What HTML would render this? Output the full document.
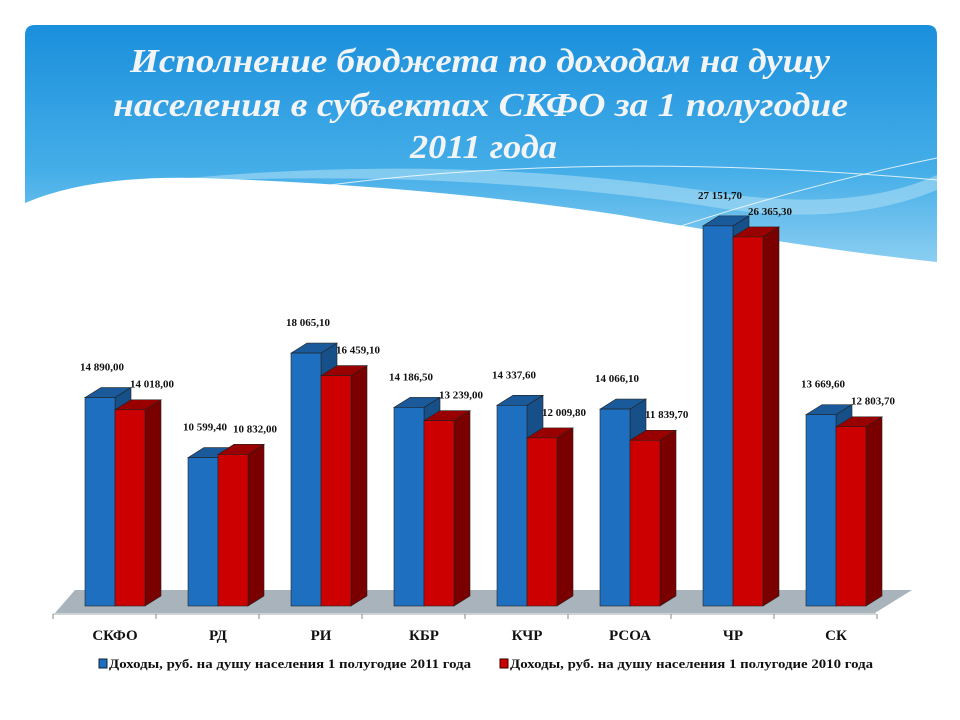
<!DOCTYPE html>
<html><head><meta charset="utf-8"><style>
html,body{margin:0;padding:0;background:#fff;width:960px;height:720px;overflow:hidden}
svg{display:block}
</style></head><body>
<svg id="chart" width="960" height="720" viewBox="0 0 960 720">
<defs>
<linearGradient id="sky" x1="0" y1="0" x2="0" y2="1">
<stop offset="0" stop-color="#1a8fdc"/><stop offset="0.6" stop-color="#45aee8"/><stop offset="1" stop-color="#8fd0f2"/>
</linearGradient>
</defs>
<g>
<path d="M25,35 Q25,25 35,25 L927,25 Q937,25 937,35 L937,268 L25,268 Z" fill="url(#sky)"/>
<path d="M120,185 Q420,150 700,190 Q850,215 937,175 L937,190 Q840,230 700,205 Q420,165 120,185Z" fill="#a8dcf5" opacity="0.6"/>
<path d="M25,203 Q90,175 200,178 Q420,185 620,215 Q820,250 937,262 L937,290 L25,290 Z" fill="#fff"/>
<path d="M330,185 Q600,150 937,180" stroke="#fff" stroke-width="1" fill="none" opacity="0.8"/>
<path d="M610,250 Q780,190 937,158" stroke="#fff" stroke-width="1" fill="none" opacity="0.8"/>
</g>
<g font-family="Liberation Serif, serif" font-style="italic" font-weight="bold" font-size="34" fill="#f2f4f6" text-anchor="start">
<text x="130" y="72" textLength="700" lengthAdjust="spacingAndGlyphs">Исполнение бюджета по доходам на душу</text>
<text x="113" y="116" textLength="735" lengthAdjust="spacingAndGlyphs">населения в субъектах СКФО за 1 полугодие</text>
<text x="410" y="158" textLength="147" lengthAdjust="spacingAndGlyphs">2011 года</text>
</g>
<path d="M55,613 L875,613 L912,590 L75,590 Z" fill="#a9b3bb"/>
<line x1="53" y1="614" x2="876" y2="614" stroke="#9aa" stroke-width="1"/>
<g id="bars"></g>
<g font-family="Liberation Serif, serif" font-weight="bold" font-size="12.5" fill="#111">
<g>
<rect x="99" y="659" width="8" height="9" fill="#1f6fc0" stroke="#123"/>
<text x="109" y="668" textLength="362" lengthAdjust="spacingAndGlyphs">Доходы, руб. на душу населения 1 полугодие 2011 года</text></g>
<g>
<rect x="500" y="659" width="8" height="9" fill="#cc0000" stroke="#300"/>
<text x="510" y="668" textLength="363" lengthAdjust="spacingAndGlyphs">Доходы, руб. на душу населения 1 полугодие 2010 года</text></g>
</g>
</svg>
<script>
const categories=["СКФО","РД","РИ","КБР","КЧР","РСОА","ЧР","СК"];
const values2011=[14890.00,10599.40,18065.10,14186.50,14337.60,14066.10,27151.70,13669.60];
const values2010=[14018.00,10832.00,16459.10,13239.00,12009.80,11839.70,26365.30,12803.70];
const labels2011=["14 890,00","10 599,40","18 065,10","14 186,50","14 337,60","14 066,10","27 151,70","13 669,60"];
const labels2010=["14 018,00","10 832,00","16 459,10","13 239,00","12 009,80","11 839,70","26 365,30","12 803,70"];
const NS="http://www.w3.org/2000/svg";
const g=document.getElementById('bars');
const base=606, k=0.014, x0=85, step=103, bw=30, dx=16, dy=10;
const yS=v=>base-v*k;
const xS=i=>x0+i*step;
function el(t,a,p){const e=document.createElementNS(NS,t);for(const n in a)e.setAttribute(n,a[n]);(p||g).appendChild(e);return e;}
function bar(x,v,front,top,side,name){
  const y=yS(v);
  const grp=el('g',{});
  
  
  el('polygon',{points:`${x+bw},${y} ${x+bw+dx},${y-dy} ${x+bw+dx},${base-dy} ${x+bw},${base}`,fill:side,stroke:'#222','stroke-width':0.6},grp);
  el('polygon',{points:`${x},${y} ${x+dx},${y-dy} ${x+bw+dx},${y-dy} ${x+bw},${y}`,fill:top,stroke:'#222','stroke-width':0.6},grp);
  el('rect',{x:x,y:y,width:bw,height:base-y,fill:front,stroke:'#222','stroke-width':0.6},grp);
}
categories.forEach((c,i)=>{
  const x=xS(i);
  bar(x,values2011[i],'#1f6fc0','#1a5a9a','#174f88','bar-2011-'+i);
  bar(x+bw,values2010[i],'#cc0000','#990000','#7a0000','bar-2010-'+i);
  const t1=el('text',{x:x-5,y:yS(values2011[i])-27,'font-family':'Liberation Serif, serif','font-weight':'bold','font-size':11,fill:'#111'});
  t1.textContent=labels2011[i];
  
  
  const t2=el('text',{x:x+bw+15,y:yS(values2010[i])-22,'font-family':'Liberation Serif, serif','font-weight':'bold','font-size':11,fill:'#111'});
  t2.textContent=labels2010[i];
  
  
  const tk=el('line',{x1:x-32,y1:614,x2:x-32,y2:619,stroke:'#888'});
  
  
  const cl=el('text',{x:x+bw,y:640,'text-anchor':'middle','font-family':'Liberation Serif, serif','font-weight':'bold','font-size':15,fill:'#111'});
  cl.textContent=c;
  
  
});
const lt=el('line',{x1:xS(8)-32,y1:614,x2:xS(8)-32,y2:619,stroke:'#888'});


</script>
</body></html>
